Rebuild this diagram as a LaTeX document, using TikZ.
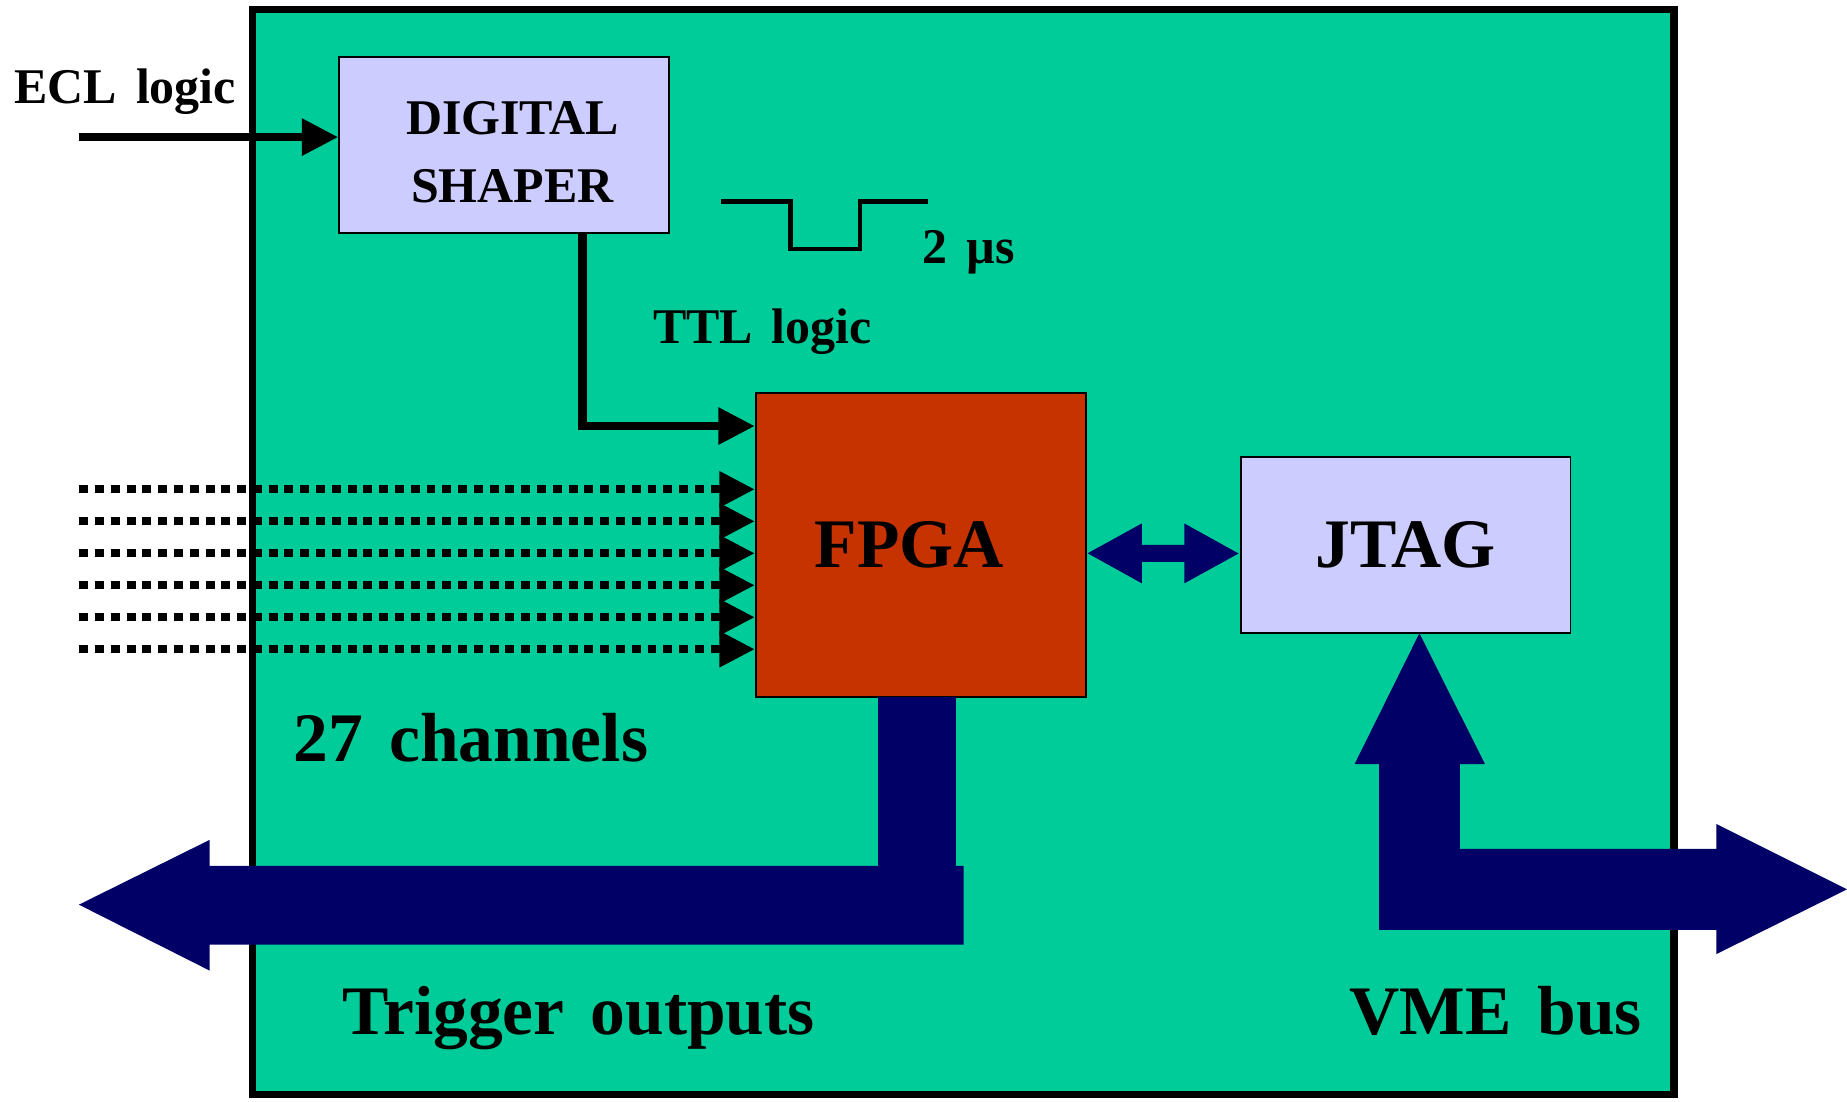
\documentclass[tikz,border=0pt]{standalone}
\usepackage{fontspec}
\setmainfont{Liberation Serif}[WordSpace=1.5]
\usepackage{tikz}
\usetikzlibrary{arrows.meta}
\definecolor{boardgreen}{RGB}{0,204,153}
\definecolor{lilac}{RGB}{204,204,255}
\definecolor{brick}{RGB}{198,51,0}
\definecolor{navy}{RGB}{0,0,102}
\tikzset{>=stealth}
\tikzset{%
    small/.style={font=\fontsize{21.2}{28.5}\selectfont\bfseries},
    big/.style={font=\fontsize{29.5}{35}\selectfont\bfseries},
    block/.style={draw=black, line width=0.8pt, fill=lilac, inner sep=0pt,
        minimum width=140pt, minimum height=74.7pt},
    sig/.style={line width=3.5pt, -{Triangle[length=15.5pt,width=15pt]}},
    channel/.style={line width=3.4pt, dash pattern=on 3.8pt off 2.9pt,
        -{Triangle[length=15pt,width=14.5pt]}},
    link/.style={navy, line width=7.2pt,
        {Triangle[length=23.5pt,width=23.6pt]}-{Triangle[length=23.5pt,width=23.6pt]}},
    bus/.style={fill=navy},
    label/.style={anchor=base west, inner sep=0pt}
}
\begin{document}
\begin{tikzpicture}[x=0.5pt,y=-0.5pt]
\useasboundingbox (0,0) rectangle (1568,935);
\node[draw=black, line width=3pt, fill=boardgreen, minimum width=603.3pt, minimum height=460.6pt] (board) at (817.8,468.4) {};
\node[block] (shaper) at (428,123.4) {};
\node[small, align=center, inner sep=0pt] (shapertext) at ([xshift=3.5pt,yshift=-2.9pt]shaper.center) {DIGITAL\\SHAPER};
\node[block, fill=brick, minimum height=128.7pt] (fpga) at (781.6,462.7) {};
\node[big, inner sep=0pt] (fpgatext) at ([xshift=-4.8pt]fpga.center) {FPGA};
\node[block, big] (jtag) at (1193.2,462.9) {JTAG};
\coordinate (ecl) at (67.3,116.4);
\draw[sig] (ecl) -- (ecl -| shaper.west);
\draw[sig] ([xshift=33.2pt]shaper.south) |- ([yshift=50.5pt]fpga.west);
\foreach \i in {0,...,5}{
    \coordinate (ch\i) at (67.3,415.4+27.15*\i);
    \draw[channel] (ch\i) -- (ch\i -| fpga.west);
}
\draw[link] ([yshift=-3.5pt]fpga.east) -- ([yshift=-3.5pt]jtag.west);
\draw[line width=1.8pt] (612,171) -- (671,171) -- (671,211.4) -- (730,211.4) -- (730,171) -- (788,171);
\fill[bus] (745,592) rectangle (812,736);
\fill[bus] (818,735) -- (178,735) -- (178,713) -- (67,768) -- (178,824) -- (178,802) -- (818,802) -- cycle;
\fill[bus] (1205,537.6) -- (1260.6,648.6) -- (1239.4,648.6) -- (1239.4,720.7) -- (1457,720.7) -- (1457,699.5) -- (1568,755)
    -- (1457,810) -- (1457,789.5) -- (1170.7,789.5) -- (1170.7,648.6) -- (1150,648.6) -- cycle;
\node[small, label] at (12,87.7) {ECL logic};
\node[small, label] at (783,223.6) {2 µs};
\node[small, label] at (554,291.4) {TTL logic};
\node[big, label] at (249,646.6) {27 channels};
\node[big, label] at (290,878) {Trigger outputs};
\node[big, label] at (1145,878) {VME bus};
\end{tikzpicture}
\end{document}
